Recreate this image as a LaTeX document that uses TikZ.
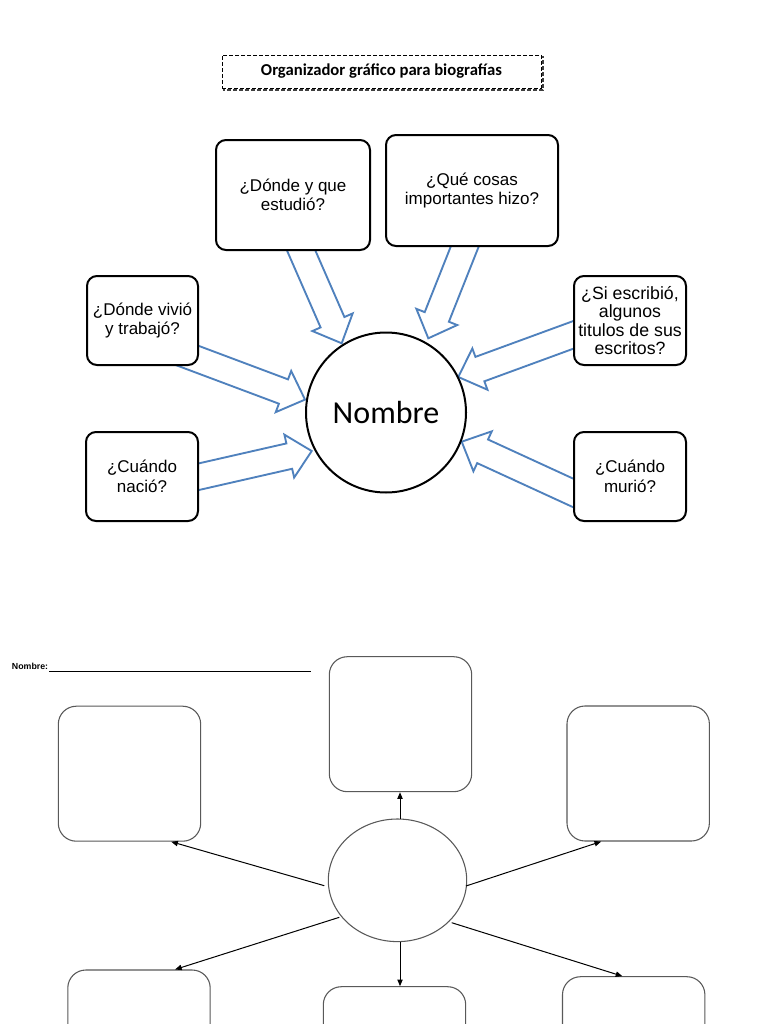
\documentclass[tikz,border=0pt]{standalone}
\usepackage{fontspec}
\setmainfont{Liberation Sans}
\newfontfamily\carlito{Carlito}
\usetikzlibrary{calc,shapes.geometric,arrows.meta}
\definecolor{arrblue}{HTML}{4F81BD}
\newcommand\blockarrow[2]{%
  \coordinate (hh) at ($(#2)!17.25pt!(#1)$);
  \draw[blockarr] ($(#1)!9.75pt!90:(#2)$) -- ($(hh)!9.75pt!90:(#2)$) -- ($(hh)!16.5pt!90:(#2)$) -- (#2) -- ($(hh)!16.5pt!-90:(#2)$) -- ($(hh)!9.75pt!-90:(#2)$) -- ($(#1)!9.75pt!-90:(#2)$);
}
\begin{document}
\begin{tikzpicture}[x=0.75pt,y=-0.75pt,
  qbox/.style={draw=black, line width=1.5pt, rounded corners=7.5pt, fill=white, align=center, inner sep=0pt, font=\fontsize{12.75}{14.6}\selectfont},
  blockarr/.style={draw=arrblue, line width=1.4pt},
  ebox/.style={draw=black!65, line width=0.8pt, rounded corners=13.5pt, minimum width=106.8pt, minimum height=101.25pt},
  thinarr/.style={draw=black, line width=0.75pt, -{Triangle[length=5pt,width=4pt]}}]
\clip (0,0) rectangle (768,1024);
\fill[white] (0,0) rectangle (768,1024);

% title
\draw[dash pattern=on 3pt off 1.5pt, black!75, line width=1pt] (224,57) rectangle (543,90);
\node[draw=black, dash pattern=on 3pt off 1.5pt, line width=0.7pt, fill=white, minimum width=239.25pt, minimum height=24.75pt, inner sep=0pt, font=\carlito\bfseries\fontsize{12.5}{14}\selectfont] (title) at (381.5,71.5) {Organizador gráfico para biografías};

% block arrows
\coordinate (a1s) at (295.7,238);   \coordinate (a1t) at (341.7,343.3);
\coordinate (a2s) at (468.9,236.1); \coordinate (a2t) at (428.3,338.3);
\coordinate (a3s) at (174,350.5);   \coordinate (a3t) at (305,399.6);
\coordinate (a4s) at (189.8,478.75);\coordinate (a4t) at (311.7,451);
\coordinate (a5s) at (594.5,327.1); \coordinate (a5t) at (458.3,377);
\coordinate (a6s) at (589,500.2);   \coordinate (a6t) at (461.7,441.7);
\blockarrow{a1s}{a1t}
\blockarrow{a2s}{a2t}
\blockarrow{a3s}{a3t}
\blockarrow{a4s}{a4t}
\blockarrow{a5s}{a5t}
\blockarrow{a6s}{a6t}

% question boxes
\node[qbox, minimum width=115.5pt, minimum height=82.5pt] (b1) at (293,195) {¿Dónde y que\\estudió?};
\node[qbox, minimum width=129pt, minimum height=83.25pt] (b2) at (472,190.5) {¿Qué cosas\\importantes hizo?};
\node[qbox, minimum width=83.25pt, minimum height=66.75pt] (b3) at (142.5,320.5) {¿Dónde vivió\\y trabajó?};
\node[qbox, minimum width=84pt, minimum height=66.75pt, font=\fontsize{13.3}{13.6}\selectfont] (b4) at (630,320.5) {¿Si escribió,\\algunos\\titulos de sus\\escritos?};
\node[qbox, minimum width=84pt, minimum height=66.75pt] (b5) at (142,476.5) {¿Cuándo\\nació?};
\node[qbox, minimum width=84pt, minimum height=66.75pt] (b6) at (630,476.5) {¿Cuándo\\murió?};

% centre circle
\node[circle, draw=black, line width=1.5pt, fill=white, minimum size=120pt, inner sep=0pt, font=\carlito\fontsize{24}{28}\selectfont] (c) at (386,412.5) {Nombre};

% bottom worksheet
\node[anchor=base west, inner sep=0pt, font=\bfseries\fontsize{6.6}{7}\selectfont] (nm) at (11.7,669.3) {Nombre:};
\draw[line width=0.7pt] ($(nm.base east)+(1,2.4)$) -- ++(262,0);

\node[ebox] (T) at (400.5,724.2) {};
\node[ebox] (L) at (129.5,773.7) {};
\node[ebox] (R) at (638.2,773.5) {};
\node[ebox] (BL) at (139,1037.5) {};
\node[ebox] (BC) at (394.5,1054.2) {};
\node[ebox] (BR) at (633.7,1044.2) {};
\node[ellipse, draw=black!65, line width=0.8pt, minimum width=103.8pt, minimum height=91.95pt, inner sep=0pt] (E) at (397.5,880.3) {};

\coordinate (e1) at (400,819);
\coordinate (e2) at (400,942);
\coordinate (e3) at (324.3,885.7);
\coordinate (e4) at (339.3,917.3);
\coordinate (e5) at (466,886);
\coordinate (e6) at (451.7,922.7);
\draw[thinarr] (e1) -- (e1 |- T.south);
\draw[thinarr] (e2) -- (e2 |- BC.north);
\draw[thinarr] (e3) -- ($(L.south east)+(-30,0)$);
\draw[thinarr] (e4) -- ($(BL.north east)+(-35.7,0)$);
\draw[thinarr] (e5) -- ($(R.south west)+(34.7,0)$);
\draw[thinarr] (e6) -- ($(BR.north west)+(60.4,0)$);
\end{tikzpicture}
\end{document}
